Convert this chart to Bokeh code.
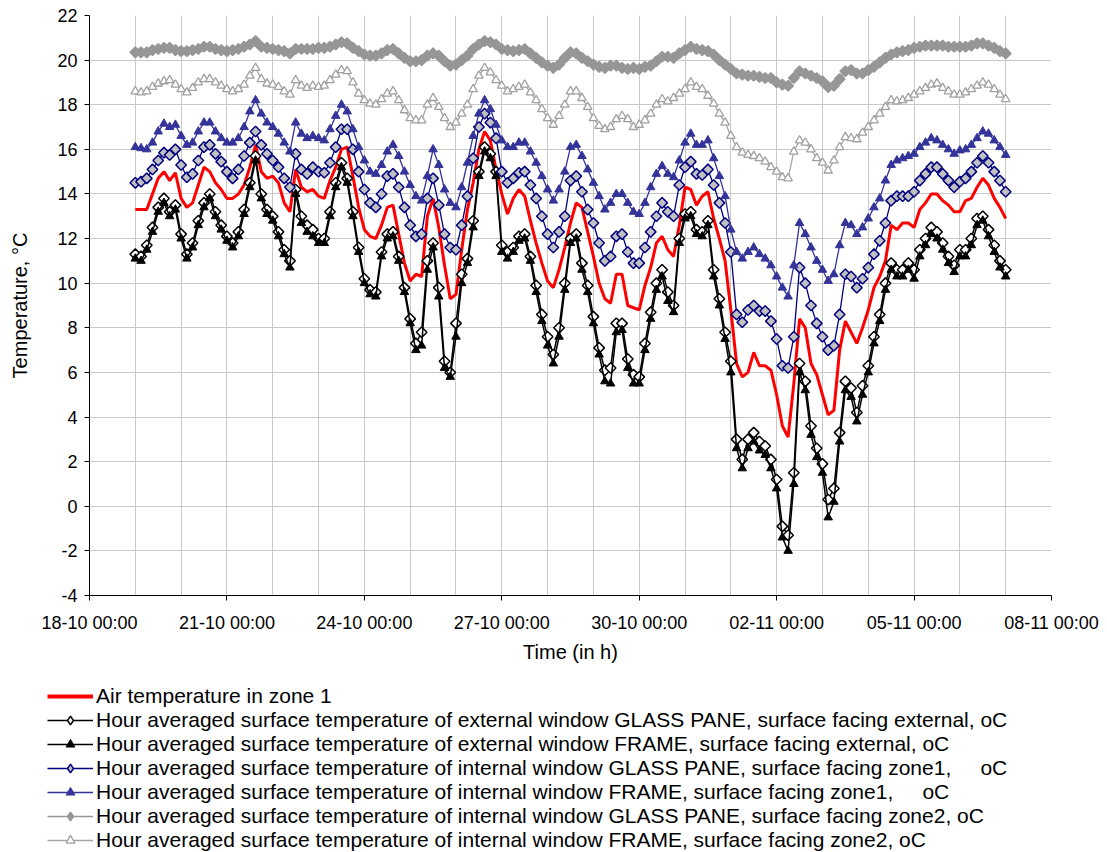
from datetime import datetime, timedelta
from math import pi
from bokeh.plotting import figure
from bokeh.layouts import column
from bokeh.models import Range1d, FixedTicker, DatetimeTickFormatter, Legend, LegendItem
from bokeh.embed import file_html
from bokeh.resources import INLINE

# ---------------- data (3-hourly readings, 19-10 00:00 .. 07-11 00:00) ----------------
START = datetime(2007, 10, 19)
STEP_HOURS = 3

air_zone1 = [
    13.3, 13.3, 13.3, 14.0, 14.7, 15.0, 14.6, 14.95,
    13.8, 13.4, 13.6, 14.4, 15.2, 15.0, 14.5, 14.2,
    13.8, 13.8, 14.0, 14.4, 15.2, 16.2, 15.0, 14.7,
    14.8, 14.5, 13.6, 13.2, 15.1, 14.3, 14.1, 14.2,
    13.9, 13.8, 14.6, 15.2, 16.0, 16.1, 14.8, 13.4,
    12.4, 12.1, 12.0, 12.6, 13.4, 13.5, 12.2, 10.9,
    10.1, 10.4, 10.3, 13.0, 13.8, 12.5, 10.8, 9.3,
    9.5, 11.5, 13.3, 14.5, 16.0, 16.8, 16.4, 15.1,
    14.0, 13.1, 13.8, 14.2, 13.9, 12.8, 11.8, 10.9,
    10.1, 9.8, 10.6, 11.6, 12.7, 13.6, 13.4, 12.3,
    11.2, 10.0, 9.3, 9.1, 10.4, 10.4, 9.0, 8.9,
    8.8, 9.9, 10.7, 11.8, 12.1, 11.5, 11.2, 12.6,
    14.3, 14.2, 13.5, 13.9, 14.1, 12.9, 12.0, 11.0,
    8.8, 6.4, 5.8, 6.0, 6.9, 6.3, 6.3, 6.1,
    5.0, 3.6, 3.1, 5.5, 8.4, 8.0, 6.4, 5.9,
    5.0, 4.1, 4.3, 7.0, 8.3, 7.8, 7.3, 8.0,
    8.8, 9.8, 10.3, 11.0, 12.6, 12.4, 12.7, 12.7,
    12.5, 13.3, 13.6, 14.0, 14.0, 13.7, 13.5, 13.2,
    13.2, 13.7, 13.8, 14.3, 14.7, 14.4, 13.8, 13.4,
    12.9,
]

ext_glass = [
    11.3, 11.2, 11.7, 12.5, 13.4, 13.8, 13.2, 13.5,
    12.2, 11.3, 11.8, 12.8, 13.6, 14.0, 13.2, 12.6,
    12.1, 11.8, 12.3, 13.3, 14.5, 15.7, 14.0, 13.3,
    13.0, 12.3, 11.5, 11.0, 14.2, 13.0, 12.6, 12.4,
    12.0, 12.0, 13.2, 14.5, 15.4, 14.7, 13.2, 11.6,
    10.2, 9.7, 9.6, 11.4, 12.2, 12.3, 11.2, 9.8,
    8.4, 7.3, 7.8, 11.0, 11.8, 9.8, 6.5, 6.0,
    8.2, 10.4, 11.1, 12.8, 15.0, 16.1, 15.8, 15.0,
    11.7, 11.4, 11.6, 12.1, 12.2, 11.2, 9.9, 8.6,
    7.6, 6.8, 8.0, 10.0, 12.0, 12.2, 10.9, 9.9,
    8.5, 7.1, 6.1, 6.2, 8.2, 8.2, 6.6, 5.9,
    5.8, 7.3, 8.7, 10.0, 10.6, 9.6, 9.0, 12.0,
    13.1, 13.2, 12.4, 12.3, 12.8, 10.6, 9.3, 7.8,
    6.5, 3.0, 2.1, 3.0, 3.3, 2.9, 2.7, 2.1,
    1.2, -0.9, -1.3, 1.5, 6.4, 5.6, 3.6, 2.6,
    1.9, 0.3, 0.8, 3.3, 5.6, 5.3, 4.2, 5.4,
    6.3, 7.6, 8.6, 10.0, 10.9, 10.6, 10.6, 10.9,
    10.6, 11.5, 12.0, 12.5, 12.3, 11.8, 11.2, 10.8,
    11.5, 11.5, 12.0, 12.9, 13.0, 12.4, 11.7, 11.0,
    10.6,
]

ext_frame = [
    11.1, 11.0, 11.5, 12.3, 13.2, 13.6, 13.0, 13.3,
    12.0, 11.1, 11.6, 12.6, 13.4, 13.8, 13.0, 12.4,
    11.9, 11.6, 12.1, 13.1, 14.3, 15.5, 13.8, 13.1,
    12.8, 12.1, 11.3, 10.7, 14.0, 12.7, 12.3, 12.1,
    11.8, 11.8, 13.0, 14.3, 15.2, 14.5, 13.0, 11.4,
    10.0, 9.5, 9.4, 11.2, 12.0, 12.1, 11.0, 9.6,
    8.2, 7.0, 7.2, 10.6, 11.6, 9.4, 6.2, 5.8,
    7.6, 10.0, 10.9, 12.5, 14.8, 15.9, 15.6, 14.8,
    11.4, 11.1, 11.4, 11.9, 12.0, 11.0, 9.6, 8.3,
    7.2, 6.4, 7.6, 9.7, 11.8, 12.0, 10.6, 9.6,
    8.2, 6.8, 5.6, 5.5, 7.8, 7.9, 6.2, 5.5,
    5.5, 7.0, 8.4, 9.7, 10.3, 9.2, 8.7, 11.8,
    12.9, 13.0, 12.2, 12.1, 12.6, 10.3, 9.0, 7.5,
    6.0, 2.6, 1.7, 2.6, 2.9, 2.5, 2.3, 1.7,
    0.8, -1.4, -2.0, 1.0, 6.0, 5.2, 3.2, 2.2,
    1.5, -0.5, 0.2, 2.9, 5.2, 4.9, 3.8, 5.0,
    6.0, 7.3, 8.3, 9.7, 10.6, 10.3, 10.3, 10.6,
    10.2, 11.2, 11.7, 12.2, 12.0, 11.5, 10.9, 10.5,
    11.2, 11.2, 11.7, 12.6, 12.8, 12.1, 11.4, 10.7,
    10.3,
]

int_glass_z1 = [
    14.5, 14.55, 14.7, 15.1, 15.5, 15.85, 15.75, 16.0,
    15.3, 14.75, 14.9, 15.5, 16.1, 16.2, 15.8, 15.45,
    15.0, 14.7, 15.1, 15.7, 16.3, 16.8, 16.2, 15.8,
    15.5, 15.2, 14.7, 14.3, 15.8, 15.1, 14.9, 15.2,
    15.0, 14.95, 15.4, 16.1, 16.9, 16.9, 16.0, 15.0,
    14.2, 13.6, 13.4, 14.0, 14.8, 14.9, 14.3, 13.4,
    12.6, 12.1, 12.2, 13.8, 14.7, 13.5, 12.2, 11.6,
    11.5, 12.6, 13.9, 15.6, 17.0, 17.6, 17.2, 16.5,
    15.0, 14.5, 14.7, 14.95, 15.0, 14.4, 13.8, 13.0,
    12.2, 11.6, 12.3, 13.0, 14.6, 14.8, 14.1, 13.3,
    12.7, 11.8, 11.0, 11.2, 12.1, 12.2, 11.4, 10.9,
    10.9, 11.6, 12.3, 13.0, 13.6, 13.2, 13.0, 14.4,
    15.2, 15.45, 14.9, 14.85, 15.1, 14.4, 13.6, 12.7,
    11.4, 8.6, 8.25, 8.8, 9.0, 8.75, 8.75, 8.3,
    7.5, 6.3, 6.2, 7.6, 10.7, 10.0, 9.0, 8.2,
    7.6, 7.0, 7.2, 8.6, 10.4, 10.3, 9.8, 10.2,
    10.7, 11.3, 11.9, 12.7, 13.7, 13.9, 13.9, 13.9,
    14.1, 14.6, 14.9, 15.2, 15.2, 14.9, 14.6, 14.3,
    14.55, 14.7, 15.0, 15.4, 15.7, 15.4, 15.0, 14.6,
    14.1,
]

int_frame_z1 = [
    16.1, 16.05, 16.0, 16.3, 16.8, 17.15, 17.0, 17.1,
    16.6, 16.2, 16.3, 16.8, 17.2, 17.2, 16.8, 16.5,
    16.3, 16.3, 16.5, 17.0, 17.7, 18.2, 17.6, 17.2,
    17.0, 16.7, 16.3, 15.9, 17.2, 16.7, 16.5, 16.6,
    16.5, 16.4, 16.9, 17.5, 18.0, 17.7, 16.9, 16.1,
    15.5, 15.0, 14.9, 15.3, 15.9, 16.2, 15.7, 15.0,
    14.4, 13.9, 13.7, 14.8, 16.0, 15.3, 14.2, 13.6,
    13.4, 14.3, 15.4, 16.6, 17.6, 18.2, 17.8, 17.1,
    16.4, 16.1, 16.1, 16.3, 16.3, 15.9, 15.4, 14.8,
    14.2, 13.7, 14.2, 15.0, 16.1, 16.2, 15.7, 15.1,
    14.5, 13.9, 13.3, 13.6, 14.0, 14.0, 13.6, 13.2,
    13.1, 13.6, 14.3, 14.9, 15.25, 14.9, 14.75, 15.5,
    16.3, 16.7, 16.2, 16.2, 16.4, 15.6, 14.8, 13.9,
    12.4, 11.4, 11.1, 11.4, 11.6, 11.3, 11.1, 10.8,
    10.3, 9.8, 9.4, 10.8, 12.7, 12.2, 11.6, 11.0,
    10.6, 10.1, 10.4, 11.7, 12.7, 12.6, 12.2, 12.5,
    12.9, 13.4, 13.8, 14.6, 15.3, 15.5, 15.6, 15.7,
    15.8, 16.1, 16.3, 16.5, 16.4, 16.2, 16.0, 15.8,
    15.95, 16.0, 16.2, 16.5, 16.8, 16.7, 16.4, 16.1,
    15.75,
]

int_glass_z2 = [
    20.35, 20.35, 20.35, 20.45, 20.5, 20.55, 20.55, 20.45,
    20.4, 20.4, 20.45, 20.5, 20.6, 20.6, 20.5, 20.45,
    20.4, 20.45, 20.5, 20.6, 20.7, 20.85, 20.6, 20.55,
    20.5, 20.45, 20.4, 20.3, 20.5, 20.5, 20.5, 20.5,
    20.55, 20.55, 20.6, 20.7, 20.8, 20.75, 20.55, 20.4,
    20.25, 20.2, 20.2, 20.3, 20.45, 20.5, 20.3, 20.1,
    19.95, 19.95, 20.0, 20.2, 20.3, 20.2, 19.95, 19.75,
    19.8, 20.0, 20.2, 20.5, 20.7, 20.85, 20.8, 20.7,
    20.5, 20.45, 20.4, 20.45, 20.5, 20.3, 20.1, 19.9,
    19.75, 19.65, 19.8, 20.1, 20.35, 20.3, 20.1, 19.95,
    19.8, 19.7, 19.65, 19.75, 19.75, 19.65, 19.6, 19.65,
    19.6, 19.7, 19.75, 19.95, 20.15, 20.15, 20.1, 20.3,
    20.45, 20.6, 20.5, 20.45, 20.4, 20.25, 20.0, 19.8,
    19.6, 19.4, 19.35, 19.3, 19.3, 19.25, 19.2, 19.2,
    19.0, 18.9, 18.85, 19.2, 19.5, 19.4, 19.3, 19.2,
    19.05, 18.8, 18.85, 19.15, 19.5, 19.55, 19.4, 19.4,
    19.55, 19.7, 19.9, 20.1, 20.25, 20.35, 20.4, 20.45,
    20.55, 20.6, 20.65, 20.65, 20.65, 20.65, 20.6, 20.6,
    20.6, 20.6, 20.65, 20.75, 20.75, 20.65, 20.55, 20.4,
    20.3,
]

int_frame_z2 = [
    18.6, 18.55, 18.6, 18.8, 18.95, 19.05, 19.1, 18.9,
    18.7, 18.55, 18.75, 19.0, 19.15, 19.15, 19.0, 18.85,
    18.7, 18.6, 18.7, 18.9, 19.3, 19.65, 19.15, 18.95,
    18.9, 18.8, 18.6, 18.45, 19.1, 18.85, 18.75, 18.85,
    18.8, 18.85, 19.1, 19.35, 19.55, 19.5, 19.0, 18.5,
    18.2, 18.05, 18.0, 18.25, 18.5, 18.6, 18.2, 17.75,
    17.4, 17.3, 17.3, 18.0, 18.3, 17.9, 17.4, 17.0,
    17.2, 17.6, 18.0, 18.7, 19.3, 19.65, 19.45, 19.1,
    18.85, 18.6, 18.7, 18.8, 18.9, 18.55, 18.2, 17.8,
    17.4, 17.1, 17.5, 18.0, 18.6, 18.6, 18.3, 17.9,
    17.4, 17.05, 16.9, 17.0, 17.35, 17.5, 17.35, 17.0,
    17.1, 17.3, 17.6, 18.0, 18.25, 18.15, 18.3, 18.5,
    18.7, 19.0, 18.8, 18.7, 18.4, 18.05, 17.6, 17.2,
    16.6, 16.1, 15.85, 15.75, 15.7, 15.6, 15.45, 15.2,
    15.0, 14.75, 14.7, 15.9, 16.4, 16.3, 16.0, 15.6,
    15.4, 15.05, 15.5, 16.1, 16.55, 16.5, 16.45, 16.75,
    17.0, 17.3, 17.6, 17.9, 18.2, 18.15, 18.2, 18.3,
    18.45, 18.6, 18.75, 18.9, 18.95, 18.75, 18.6, 18.45,
    18.45, 18.55, 18.7, 18.85, 19.0, 18.9, 18.7, 18.45,
    18.25,
]

legend_labels = [
    "Air temperature in zone 1",
    "Hour averaged surface temperature of external window GLASS PANE, surface facing external, oC",
    "Hour averaged surface temperature of external window FRAME, surface facing external, oC",
    "Hour averaged surface temperature of internal window GLASS PANE, surface facing zone1,     oC",
    "Hour averaged surface temperature of internal window FRAME, surface facing zone1,     oC",
    "Hour averaged surface temperature of internal window GLASS PANE, surface facing zone2, oC",
    "Hour averaged surface temperature of internal window FRAME, surface facing zone2, oC",
]

y_ticks = list(range(-4, 23, 2))
x_start = datetime(2007, 10, 18)
x_end = datetime(2007, 11, 8)
x_tick_days = 3

# ---------------- helpers ----------------
EPOCH = datetime(1970, 1, 1)


def ms(d):
    return (d - EPOCH).total_seconds() * 1000.0


times = [START + timedelta(hours=STEP_HOURS * i) for i in range(len(air_zone1))]
n_days = (x_end - x_start).days
major_ticks = [ms(x_start + timedelta(days=d)) for d in range(0, n_days + 1, x_tick_days)]
day_ticks = [ms(x_start + timedelta(days=d)) for d in range(0, n_days + 1)]

FONT = "Liberation Sans"
W = 1107
TOP_H = 672
LEG_H = 180

p = figure(
    width=W, height=TOP_H,
    x_axis_type="datetime",
    x_range=Range1d(ms(x_start), ms(x_end)),
    y_range=Range1d(-4, 22),
    output_backend="svg", toolbar_location=None,
    min_border_left=89, min_border_right=56, min_border_top=15, min_border_bottom=77,
)
p.frame_align = False
p.outline_line_color = None
p.background_fill_color = "white"
p.border_fill_color = "white"

p.xaxis.ticker = FixedTicker(ticks=major_ticks)
fmt = "%d-%m %H:%M"
p.xaxis.formatter = DatetimeTickFormatter(
    milliseconds=fmt, seconds=fmt, minsec=fmt, minutes=fmt, hourmin=fmt,
    hours=fmt, days=fmt, months=fmt, years=fmt)
p.yaxis.ticker = FixedTicker(ticks=y_ticks)
p.yaxis.major_label_overrides = {v: str(v) for v in y_ticks}
p.xgrid.ticker = FixedTicker(ticks=day_ticks)

for ax in (p.xaxis[0], p.yaxis[0]):
    ax.axis_line_color = "black"
    ax.axis_line_width = 1
    ax.major_tick_line_color = "black"
    ax.major_tick_in = 0
    ax.major_tick_out = 5
    ax.minor_tick_line_color = None
    ax.major_label_text_font = FONT
    ax.major_label_text_font_size = "18px"
    ax.major_label_text_color = "black"
    ax.axis_label_text_font = FONT
    ax.axis_label_text_font_size = "20px"
    ax.axis_label_text_font_style = "normal"
    ax.axis_label_text_color = "black"

p.xaxis.axis_label = "Time (in h)"
p.yaxis.axis_label = "Temperature, °C"
p.xaxis.major_label_standoff = 12
p.xaxis.axis_label_standoff = 5
p.yaxis.major_label_standoff = 7
p.yaxis.axis_label_standoff = 23

for g in (p.xgrid[0], p.ygrid[0]):
    g.grid_line_color = "#C8C8C8"
    g.grid_line_width = 1

# ---------------- series styles ----------------
DIAMOND = dict(marker="square", angle=pi / 4, size=7.5)
TRI = dict(marker="triangle", size=8.5)

styles = [
    (air_zone1, dict(line_color="#FF0000", line_width=3), None, None),
    (ext_glass, dict(line_color="black", line_width=1.5),
     dict(fill_color="white", line_color="black", line_width=1.5), DIAMOND),
    (ext_frame, dict(line_color="black", line_width=1.5),
     dict(fill_color="black", line_color="black", line_width=1), TRI),
    (int_glass_z1, dict(line_color="#000080", line_width=1.3),
     dict(fill_color="#C0C0C0", line_color="#000080", line_width=1.5), DIAMOND),
    (int_frame_z1, dict(line_color="#333399", line_width=1.3),
     dict(fill_color="#333399", line_color="#333399", line_width=1), TRI),
    (int_glass_z2, dict(line_color="#969696", line_width=1.3),
     dict(fill_color="#969696", line_color="#969696", line_width=1.5), DIAMOND),
    (int_frame_z2, dict(line_color="#A6A6A6", line_width=1.3),
     dict(fill_color="white", line_color="#A0A0A0", line_width=1.3), TRI),
]

for vals, lkw, skw, shape in styles:
    p.line(times, vals, **lkw)
    if skw is not None:
        p.scatter(times, vals, **skw, **shape)

# ---------------- legend strip under the chart ----------------
q = figure(
    width=W, height=LEG_H,
    x_range=Range1d(0, 1), y_range=Range1d(0, 1),
    output_backend="svg", toolbar_location=None,
    min_border=0, x_axis_location=None, y_axis_location=None,
)
q.frame_align = False
q.grid.visible = False
q.outline_line_color = None
q.background_fill_color = "white"
q.border_fill_color = "white"

off_x = [5, 6]   # sample renderers kept outside the visible range; only legend glyphs show
off_y = [5, 6]
items = []
for (vals, lkw, skw, shape), label in zip(styles, legend_labels):
    lk = dict(lkw)
    if vals is air_zone1:
        lk["line_width"] = 4
    rs = [q.line(off_x, off_y, **lk)]
    if skw is not None:
        mk = "diamond" if shape is DIAMOND else "triangle"
        rs.append(q.scatter(off_x, off_y, marker=mk, size=9, **skw))
    items.append(LegendItem(label=label, renderers=rs))

legend = Legend(
    items=items, location=(47, 0), orientation="vertical",
    padding=0, margin=0, spacing=-1,
    glyph_width=46, glyph_height=22, label_height=22, label_standoff=3,
    label_text_font=FONT, label_text_font_size="21px", label_text_color="black",
    border_line_color=None, background_fill_alpha=0,
)
q.add_layout(legend, "center")

layout = column(p, q, spacing=0)
open("out.html", "w").write(file_html(layout, INLINE))
